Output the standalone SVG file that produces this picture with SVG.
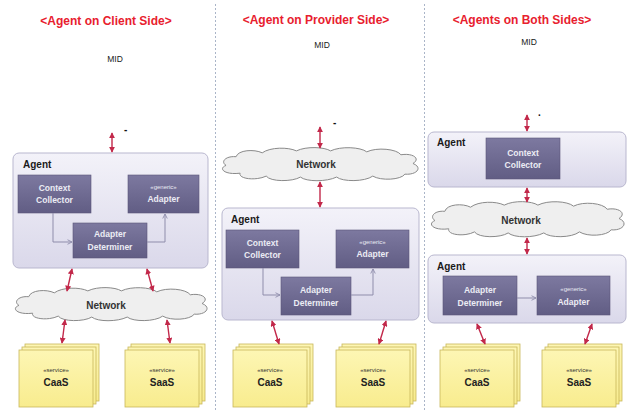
<svg xmlns="http://www.w3.org/2000/svg" width="634" height="412" viewBox="0 0 634 412">
  <defs>
    <linearGradient id="agentFill" x1="0" y1="0" x2="0" y2="1">
      <stop offset="0" stop-color="#f3f2f9"/>
      <stop offset="1" stop-color="#dad8ea"/>
    </linearGradient>
    <linearGradient id="partFill" x1="0" y1="0" x2="0" y2="1">
      <stop offset="0" stop-color="#7d79a0"/>
      <stop offset="1" stop-color="#615d84"/>
    </linearGradient>
    <linearGradient id="svcFill" x1="0" y1="0" x2="0" y2="1">
      <stop offset="0" stop-color="#fdf6b4"/>
      <stop offset="1" stop-color="#f8ec8e"/>
    </linearGradient>
    <marker id="redHead" viewBox="0 0 8 8" refX="7" refY="4" markerWidth="6" markerHeight="6" orient="auto-start-reverse" markerUnits="userSpaceOnUse">
      <path d="M0,0 L8,4 L0,8 Z" fill="#c2284a"/>
    </marker>
    <marker id="grayHead" viewBox="0 0 8 8" refX="7" refY="4" markerWidth="6" markerHeight="6" orient="auto" markerUnits="userSpaceOnUse">
      <path d="M1,1 L7,4 L1,7" fill="none" stroke="#8f8dab" stroke-width="1.2"/>
    </marker>
    <path id="cloud" d="M8,19 C2,15 8,9 18,10 C20,3 36,2 44,6 C52,0 70,0 78,4 C88,-1 106,0 112,4 C122,-1 142,0 148,5 C158,0 178,2 182,8 C194,6 202,12 194,17 C204,21 198,29 186,28 C182,34 162,35 154,30 C146,36 124,36 118,31 C108,36 88,36 82,31 C74,36 52,36 48,30 C38,35 20,33 22,27 C6,29 0,22 8,19 Z" fill="#efefef" stroke="#8a8a8a" stroke-width="1" vector-effect="non-scaling-stroke"/>
    <g id="stack">
      <rect x="6" y="-6" width="74" height="57" fill="url(#svcFill)" stroke="#c8b75a" stroke-width="0.8"/>
      <rect x="3" y="-3" width="74" height="57" fill="url(#svcFill)" stroke="#c8b75a" stroke-width="0.8"/>
      <rect x="0" y="0" width="74" height="57" fill="url(#svcFill)" stroke="#c8b75a" stroke-width="0.8"/>
    </g>
  </defs>
  <style>
    .title { font-family: "Liberation Sans", Arial, sans-serif; font-size: 12px; font-weight: bold; fill: #e8202e; text-anchor: middle; }
    .mid { font-family: "Liberation Sans", Arial, sans-serif; font-size: 8.5px; fill: #1a1a1a; text-anchor: middle; }
    .mark { font-family: "Liberation Sans", Arial, sans-serif; font-size: 10px; font-weight: bold; fill: #111; }
    .agent { fill: url(#agentFill); stroke: #b9b7cf; stroke-width: 1; }
    .agentLbl { font-family: "Liberation Sans", Arial, sans-serif; font-size: 10px; font-weight: bold; fill: #1a1a1a; }
    .part { fill: url(#partFill); stroke: #5a5679; stroke-width: 0.6; }
    .partLbl { font-family: "Liberation Sans", Arial, sans-serif; font-size: 8.5px; font-weight: bold; fill: #ececf4; text-anchor: middle; }
    .stereo { font-family: "Liberation Sans", Arial, sans-serif; font-size: 6px; fill: #ececf4; text-anchor: middle; }
    .netLbl { font-family: "Liberation Sans", Arial, sans-serif; font-size: 10px; font-weight: bold; fill: #333; text-anchor: middle; }
    .svcStereo { font-family: "Liberation Sans", Arial, sans-serif; font-size: 6px; fill: #333; text-anchor: middle; }
    .svcLbl { font-family: "Liberation Sans", Arial, sans-serif; font-size: 10px; font-weight: bold; fill: #222; text-anchor: middle; }
    .link { stroke: #c2284a; stroke-width: 1.4; fill: none; marker-start: url(#redHead); marker-end: url(#redHead); }
    .flow { stroke: #8f8dab; stroke-width: 1; fill: none; marker-end: url(#grayHead); }
    .sep { stroke: #aab5c8; stroke-width: 1; stroke-dasharray: 2 2; }
  </style>

  <rect width="634" height="412" fill="#ffffff"/>

  <!-- column separators -->
  <line class="sep" x1="215.5" y1="4" x2="215.5" y2="412"/>
  <line class="sep" x1="424.5" y1="4" x2="424.5" y2="412"/>

  <!-- headings -->
  <text class="title" x="106" y="25">&lt;Agent on Client Side&gt;</text>
  <text class="title" x="316" y="24">&lt;Agent on Provider Side&gt;</text>
  <text class="title" x="522" y="24">&lt;Agents on Both Sides&gt;</text>

  <!-- ===== Column 1: agent on client side ===== -->
  <g id="mid1">
    <text class="mid" x="115" y="62">MID</text>
    <text class="mark" x="124" y="133">-</text>
  </g>
  <g id="agent1">
    <rect class="agent" x="13" y="153" width="195" height="115" rx="6"/>
    <text class="agentLbl" x="23" y="168">Agent</text>
  </g>
  <g id="collector1">
    <rect class="part" x="18" y="175" width="73" height="38"/>
    <text class="partLbl" x="54.5" y="191">Context</text>
    <text class="partLbl" x="54.5" y="203">Collector</text>
  </g>
  <g id="adapter1">
    <rect class="part" x="128" y="175" width="71" height="38"/>
    <text class="stereo" x="163.5" y="189">«generic»</text>
    <text class="partLbl" x="163.5" y="202">Adapter</text>
  </g>
  <g id="determiner1">
    <rect class="part" x="73" y="223" width="74" height="35"/>
    <text class="partLbl" x="110" y="237">Adapter</text>
    <text class="partLbl" x="110" y="250">Determiner</text>
  </g>
  <g id="network1">
    <use href="#cloud" transform="translate(11,287) scale(0.985,0.97)"/>
    <text class="netLbl" x="106" y="309">Network</text>
  </g>
  <g id="caas1">
    <use href="#stack" x="19" y="350"/>
    <text class="svcStereo" x="56" y="372">«service»</text>
    <text class="svcLbl" x="56" y="386">CaaS</text>
  </g>
  <g id="saas1">
    <use href="#stack" x="125" y="350"/>
    <text class="svcStereo" x="162" y="372">«service»</text>
    <text class="svcLbl" x="162" y="386">SaaS</text>
  </g>

  <!-- ===== Column 2: agent on provider side ===== -->
  <g id="mid2">
    <text class="mid" x="322" y="48">MID</text>
    <text class="mark" x="333" y="126">-</text>
  </g>
  <g id="network2">
    <use href="#cloud" transform="translate(218,147) scale(1.005,0.97)"/>
    <text class="netLbl" x="316" y="168">Network</text>
  </g>
  <g id="agent2">
    <rect class="agent" x="222" y="208" width="197" height="112" rx="6"/>
    <text class="agentLbl" x="231" y="223">Agent</text>
  </g>
  <g id="collector2">
    <rect class="part" x="226" y="230" width="73" height="38"/>
    <text class="partLbl" x="262.5" y="246">Context</text>
    <text class="partLbl" x="262.5" y="258">Collector</text>
  </g>
  <g id="adapter2">
    <rect class="part" x="336" y="230" width="73" height="38"/>
    <text class="stereo" x="372.5" y="244">«generic»</text>
    <text class="partLbl" x="372.5" y="257">Adapter</text>
  </g>
  <g id="determiner2">
    <rect class="part" x="281" y="277" width="70" height="38"/>
    <text class="partLbl" x="316" y="293">Adapter</text>
    <text class="partLbl" x="316" y="306">Determiner</text>
  </g>
  <g id="caas2">
    <use href="#stack" x="233" y="350"/>
    <text class="svcStereo" x="270" y="372">«service»</text>
    <text class="svcLbl" x="270" y="386">CaaS</text>
  </g>
  <g id="saas2">
    <use href="#stack" x="336" y="350"/>
    <text class="svcStereo" x="373" y="372">«service»</text>
    <text class="svcLbl" x="373" y="386">SaaS</text>
  </g>

  <!-- ===== Column 3: agents on both sides ===== -->
  <g id="mid3">
    <text class="mid" x="529" y="45">MID</text>
    <text class="mark" x="538" y="116">.</text>
  </g>
  <g id="agent3a">
    <rect class="agent" x="428" y="132" width="198" height="55" rx="6"/>
    <text class="agentLbl" x="437" y="146">Agent</text>
  </g>
  <g id="collector3">
    <rect class="part" x="486" y="138" width="74" height="41"/>
    <text class="partLbl" x="523" y="156">Context</text>
    <text class="partLbl" x="523" y="168">Collector</text>
  </g>
  <g id="network3">
    <use href="#cloud" transform="translate(427,201) scale(0.99,1.03)"/>
    <text class="netLbl" x="521" y="224">Network</text>
  </g>
  <g id="agent3b">
    <rect class="agent" x="428" y="255" width="198" height="68" rx="6"/>
    <text class="agentLbl" x="437" y="270">Agent</text>
  </g>
  <g id="determiner3">
    <rect class="part" x="443" y="276" width="74" height="39"/>
    <text class="partLbl" x="480" y="293">Adapter</text>
    <text class="partLbl" x="480" y="306">Determiner</text>
  </g>
  <g id="adapter3">
    <rect class="part" x="537" y="276" width="73" height="39"/>
    <text class="stereo" x="573.5" y="291">«generic»</text>
    <text class="partLbl" x="573.5" y="305">Adapter</text>
  </g>
  <g id="caas3">
    <use href="#stack" x="440" y="350"/>
    <text class="svcStereo" x="477" y="372">«service»</text>
    <text class="svcLbl" x="477" y="386">CaaS</text>
  </g>
  <g id="saas3">
    <use href="#stack" x="542" y="350"/>
    <text class="svcStereo" x="579" y="372">«service»</text>
    <text class="svcLbl" x="579" y="386">SaaS</text>
  </g>

  <!-- connectors -->
  <g id="connectors">
    <!-- column 1 -->
    <line class="link" x1="112" y1="133" x2="112" y2="152"/>
    <polyline class="flow" points="53,213 53,242 72,242"/>
    <polyline class="flow" points="147,242 165,242 165,214"/>
    <line class="link" x1="72" y1="269" x2="67" y2="291"/>
    <line class="link" x1="147" y1="269" x2="153" y2="291"/>
    <line class="link" x1="65" y1="320" x2="62" y2="343"/>
    <line class="link" x1="167" y1="320" x2="170" y2="343"/>
    <!-- column 2 -->
    <line class="link" x1="320" y1="127" x2="320" y2="148"/>
    <line class="link" x1="320" y1="182" x2="320" y2="207"/>
    <polyline class="flow" points="263,268 263,295 280,295"/>
    <polyline class="flow" points="351,295 373,295 373,269"/>
    <line class="link" x1="272" y1="321" x2="279" y2="344"/>
    <line class="link" x1="386" y1="321" x2="379" y2="344"/>
    <!-- column 3 -->
    <line class="link" x1="527" y1="115" x2="527" y2="131"/>
    <line class="link" x1="527" y1="188" x2="527" y2="202"/>
    <line class="link" x1="527" y1="238" x2="527" y2="254"/>
    <line class="flow" x1="517" y1="298" x2="536" y2="298"/>
    <line class="link" x1="477" y1="324" x2="485" y2="344"/>
    <line class="link" x1="592" y1="324" x2="585" y2="344"/>
  </g>
</svg>
